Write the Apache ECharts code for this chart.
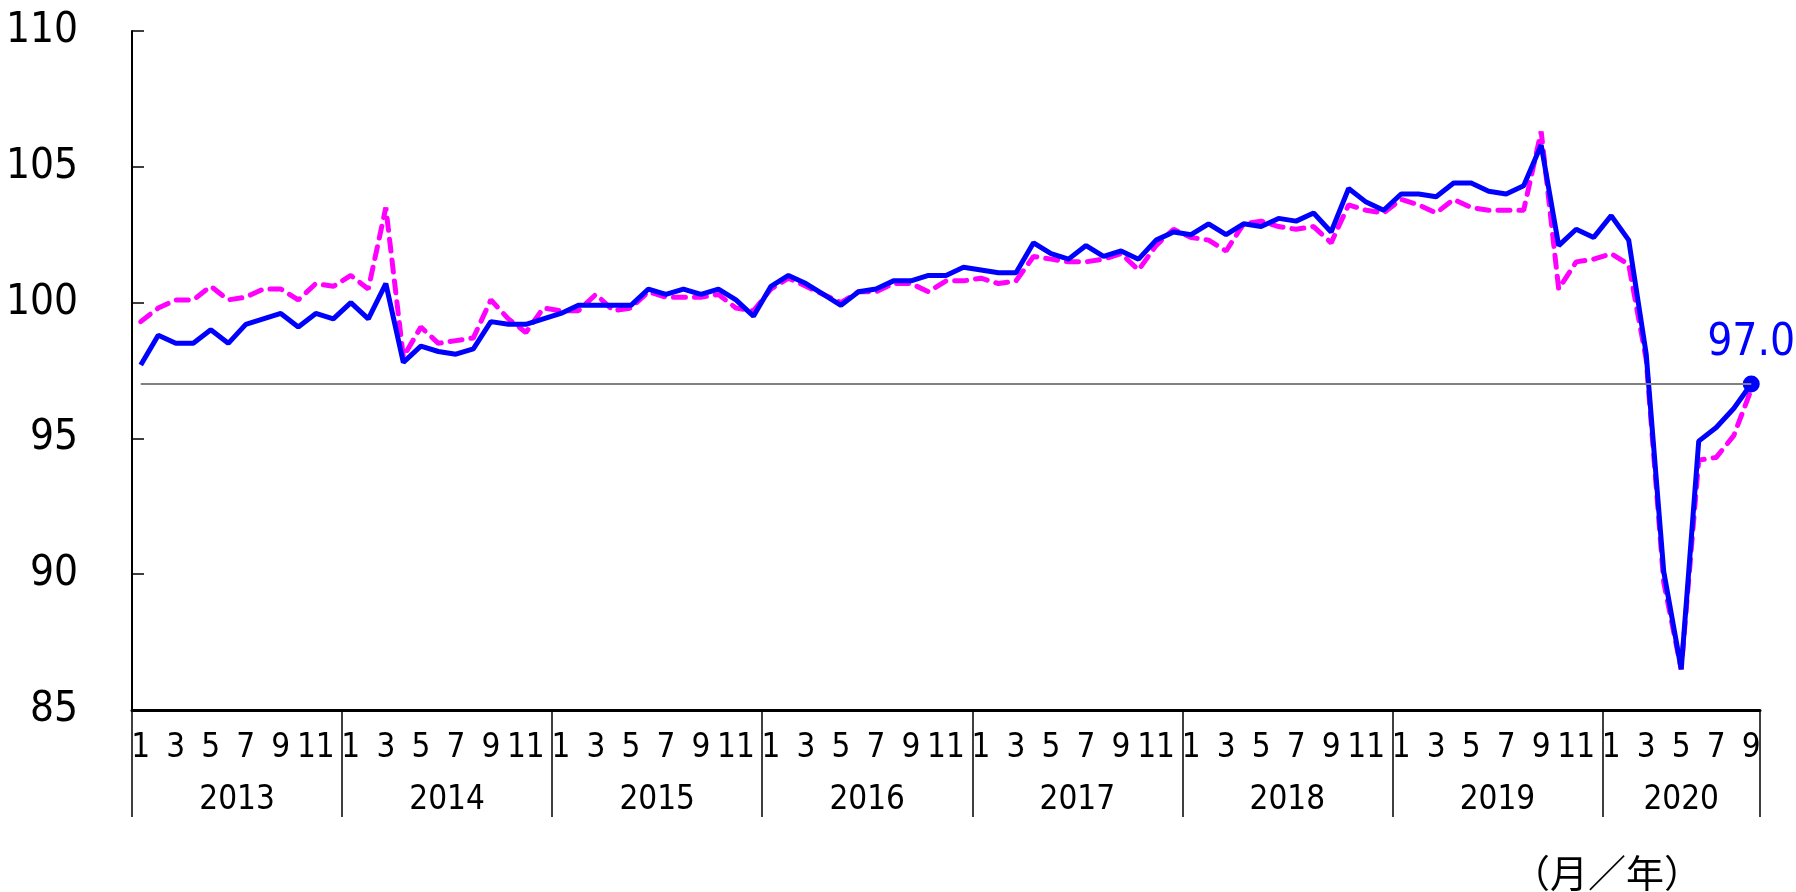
<!DOCTYPE html>
<html>
<head>
<meta charset="utf-8">
<script src="https://cdn.jsdelivr.net/npm/echarts@6/dist/echarts.min.js"></script>
<style>
  html, body { margin: 0; padding: 0; background: #fff; }
  #chart { width: 1796px; height: 892px; }
</style>
</head>
<body>
<div id="chart"></div>
<script>
// years on the axis, 2020 runs to September
const years = ['2013', '2014', '2015', '2016', '2017', '2018', '2019', '2020'];
const lastYearMonths = 9;

// solid blue series
const blueValues = [
  97.7, 98.8, 98.5, 98.5, 99.0, 98.5, 99.2, 99.4, 99.6, 99.1, 99.6, 99.4,
  100.0, 99.4, 100.7, 97.8, 98.4, 98.2, 98.1, 98.3, 99.3, 99.2, 99.2, 99.4,
  99.6, 99.9, 99.9, 99.9, 99.9, 100.5, 100.3, 100.5, 100.3, 100.5, 100.1, 99.5,
  100.6, 101.0, 100.7, 100.3, 99.9, 100.4, 100.5, 100.8, 100.8, 101.0, 101.0, 101.3,
  101.2, 101.1, 101.1, 102.2, 101.8, 101.6, 102.1, 101.7, 101.9, 101.6, 102.3, 102.6,
  102.5, 102.9, 102.5, 102.9, 102.8, 103.1, 103.0, 103.3, 102.6, 104.2, 103.7, 103.4,
  104.0, 104.0, 103.9, 104.4, 104.4, 104.1, 104.0, 104.3, 105.8, 102.1, 102.7, 102.4,
  103.2, 102.3, 98.1, 90.1, 86.5, 94.9, 95.4, 96.1, 97.0
];

// dashed magenta series
const pinkValues = [
  99.3, 99.8, 100.1, 100.1, 100.6, 100.1, 100.2, 100.5, 100.5, 100.1, 100.7, 100.6,
  101.0, 100.5, 103.5, 98.0, 99.1, 98.5, 98.6, 98.7, 100.1, 99.4, 98.9, 99.8,
  99.7, 99.7, 100.3, 99.7, 99.8, 100.4, 100.2, 100.2, 100.2, 100.3, 99.8, 99.7,
  100.5, 100.9, 100.6, 100.3, 100.0, 100.4, 100.4, 100.7, 100.7, 100.4, 100.8, 100.8,
  100.9, 100.7, 100.8, 101.7, 101.6, 101.5, 101.5, 101.6, 101.8, 101.2, 102.1, 102.7,
  102.4, 102.3, 101.9, 102.9, 103.0, 102.8, 102.7, 102.8, 102.2, 103.6, 103.4, 103.3,
  103.8, 103.6, 103.3, 103.8, 103.5, 103.4, 103.4, 103.4, 106.3, 100.5, 101.5, 101.6,
  101.8, 101.4, 97.9, 89.7, 86.5, 94.2, 94.3, 95.1, 96.8
];

const refLevel = 97.0;
const yTicks = [85, 110, 5]; // min, max, step

const categories = [];
years.forEach(function (y, k) {
  const n = k === years.length - 1 ? lastYearMonths : 12;
  for (let m = 1; m <= n; m++) categories.push(y + '/' + m);
});

const numFont = '"Liberation Sans Narrow", "DejaVu Sans Condensed", "Liberation Sans", sans-serif';

function monthOf(i) { return i % 12; }

// year label sits in the middle of its span of months
function yearLabelIndex(i) {
  const k = Math.floor(i / 12);
  const n = k === years.length - 1 ? lastYearMonths : 12;
  return monthOf(i) === Math.floor(n / 2);
}

const blueData = blueValues.map(function (v, i) {
  if (i < blueValues.length - 1) return v;
  return {
    value: v,
    symbol: 'circle',
    symbolSize: 17,
    label: {
      show: true,
      position: 'top',
      distance: 10,
      formatter: function (p) { return p.value.toFixed(1); },
      fontSize: 44,
      fontFamily: numFont,
      color: '#0000ff'
    }
  };
});

const chart = echarts.init(document.getElementById('chart'));
chart.setOption({
  animation: false,
  backgroundColor: '#fff',
  title: {
    text: '（月／年）',
    left: 1512,
    top: 854,
    padding: 0,
    textStyle: { fontSize: 38, fontWeight: 'normal', color: '#000', fontFamily: '"Noto Sans CJK JP", sans-serif' }
  },
  grid: { left: 132, right: 36, top: 31, bottom: 182, containLabel: false, outerBoundsMode: 'none' },
  xAxis: [
    {
      type: 'category',
      data: categories,
      boundaryGap: true,
      axisLine: { lineStyle: { color: '#000', width: 3 } },
      axisTick: {
        show: true,
        interval: function (i) { return monthOf(i) === 0; },
        length: 107,
        lineStyle: { color: '#000', width: 1.5 }
      },
      axisLabel: {
        interval: function (i) { return monthOf(i) % 2 === 0; },
        formatter: function (v, i) { return String(monthOf(i) + 1); },
        fontSize: 33,
        fontFamily: numFont,
        color: '#000',
        margin: 22
      },
      splitLine: { show: false }
    },
    {
      type: 'category',
      data: categories,
      position: 'bottom',
      boundaryGap: true,
      axisLine: { show: false },
      axisTick: { show: false },
      axisLabel: {
        interval: function (i) { return yearLabelIndex(i); },
        formatter: function (v, i) {
          const k = Math.floor(i / 12);
          return k === years.length - 1 ? '{b|' + years[k] + '}' : '{a|' + years[k] + '}';
        },
        margin: 74,
        rich: {
          a: { fontSize: 33, fontFamily: numFont, color: '#000', padding: [0, 17.5, 0, 0] },
          b: { fontSize: 33, fontFamily: numFont, color: '#000' }
        }
      },
      splitLine: { show: false }
    }
  ],
  yAxis: {
    type: 'value',
    min: yTicks[0],
    max: yTicks[1],
    interval: yTicks[2],
    axisLine: { show: true, lineStyle: { color: '#000', width: 2 } },
    axisTick: { show: true, inside: true, length: 12, lineStyle: { color: '#000', width: 1.5 } },
    axisLabel: { fontSize: 42, fontFamily: numFont, color: '#000', margin: 54 },
    splitLine: { show: false }
  },
  series: [
    {
      type: 'line',
      data: pinkValues,
      showSymbol: false,
      lineStyle: { color: '#ff00ff', width: 5, type: [12, 9], cap: 'round' },
      z: 2
    },
    {
      type: 'line',
      data: blueData,
      symbol: 'none',
      showAllSymbol: true,
      itemStyle: { color: '#0000ff' },
      lineStyle: { color: '#0000ff', width: 5 },
      z: 3,
      markLine: {
        silent: true,
        symbol: 'none',
        label: { show: false },
        lineStyle: { color: '#808080', width: 2, type: 'solid' },
        data: [[
          { coord: [categories[0], refLevel] },
          { coord: [categories[categories.length - 1], refLevel] }
        ]]
      }
    }
  ]
});
</script>
</body>
</html>
